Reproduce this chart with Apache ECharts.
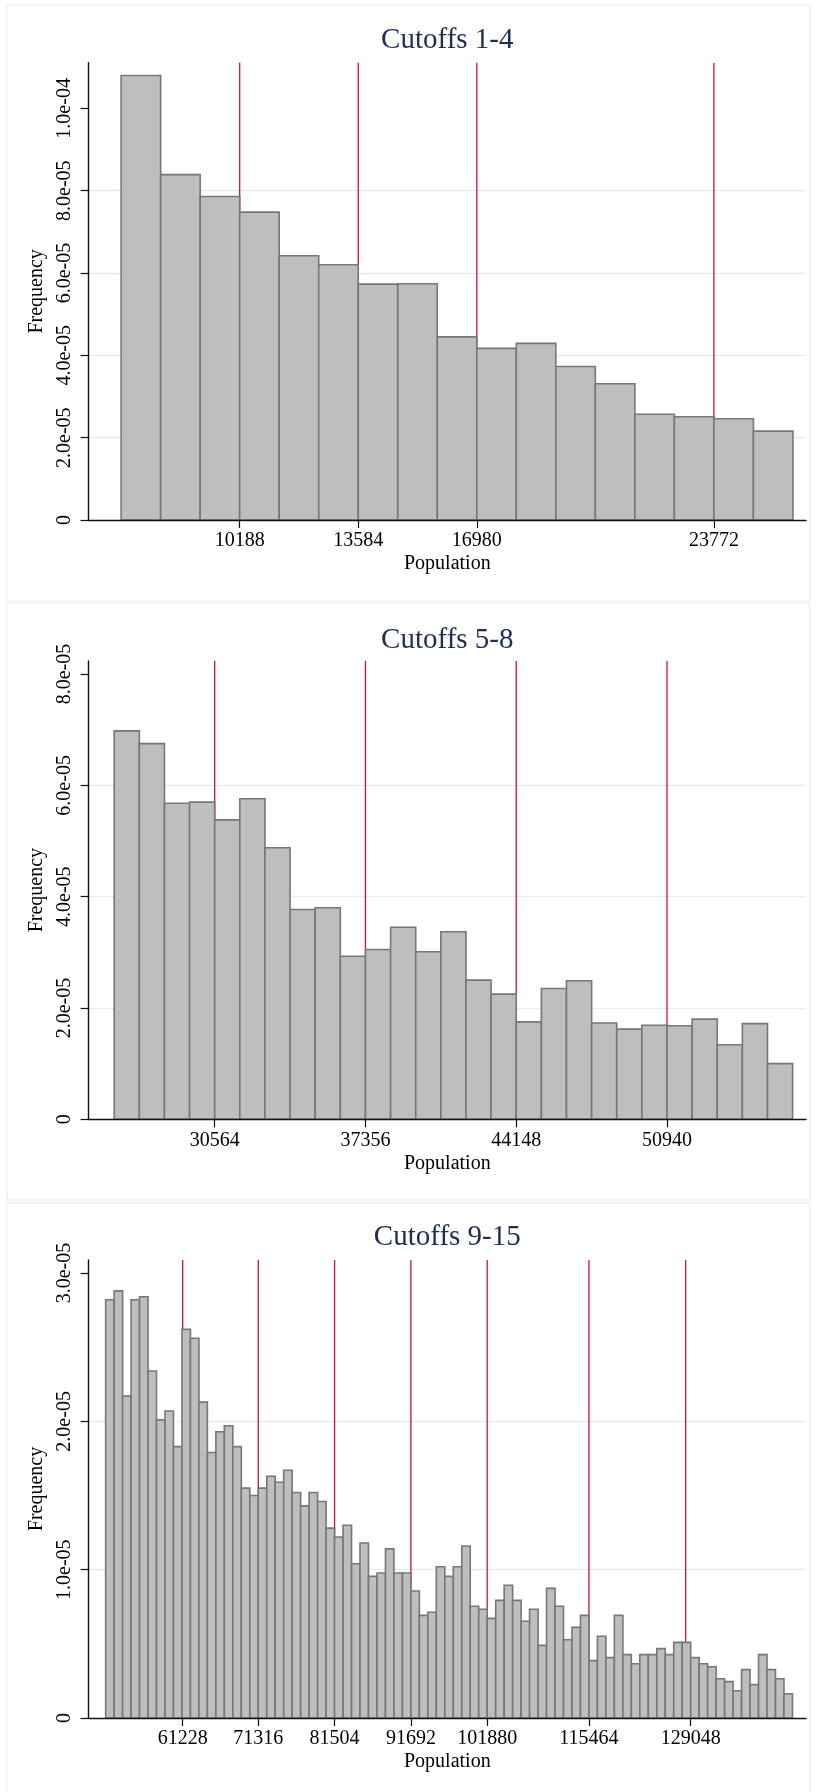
<!DOCTYPE html>
<html>
<head>
<meta charset="utf-8">
<script src="https://cdn.jsdelivr.net/npm/echarts@6/dist/echarts.min.js"></script>
<style>
  html, body { margin: 0; padding: 0; background: #ffffff; }
  #chart { width: 817px; height: 1792px; }
</style>
</head>
<body>
<div id="chart"></div>
<script>
// ---- data -------------------------------------------------------------
const titles = ['Cutoffs 1-4', 'Cutoffs 5-8', 'Cutoffs 9-15'];
const xName = 'Population';
const yName = 'Frequency';

// histogram bins: common width, first lower edge per panel
const binWidth = 1132;
const binStarts = [6792, 26036, 50940];

// density per bin
const freq1 = [1.080e-4, 8.39e-5, 7.86e-5, 7.48e-5, 6.42e-5, 6.20e-5, 5.73e-5, 5.74e-5,
  4.45e-5, 4.17e-5, 4.29e-5, 3.73e-5, 3.31e-5, 2.57e-5, 2.51e-5, 2.46e-5, 2.16e-5];

const freq2 = [6.98e-5, 6.75e-5, 5.68e-5, 5.70e-5, 5.38e-5, 5.76e-5, 4.88e-5, 3.77e-5, 3.80e-5,
  2.93e-5, 3.05e-5, 3.45e-5, 3.01e-5, 3.37e-5, 2.50e-5, 2.25e-5, 1.75e-5, 2.35e-5, 2.49e-5,
  1.73e-5, 1.62e-5, 1.69e-5, 1.68e-5, 1.80e-5, 1.34e-5, 1.72e-5, 1.00e-5];

const freq3 = [2.82e-5, 2.88e-5, 2.17e-5, 2.82e-5, 2.84e-5, 2.34e-5, 2.01e-5, 2.07e-5, 1.83e-5,
  2.62e-5, 2.56e-5, 2.13e-5, 1.79e-5, 1.93e-5, 1.97e-5, 1.83e-5, 1.55e-5, 1.50e-5, 1.55e-5,
  1.63e-5, 1.59e-5, 1.67e-5, 1.52e-5, 1.43e-5, 1.52e-5, 1.46e-5, 1.28e-5, 1.22e-5, 1.30e-5,
  1.04e-5, 1.18e-5, 0.955e-5, 0.978e-5, 1.14e-5, 0.978e-5, 0.978e-5, 0.856e-5, 0.692e-5, 0.713e-5,
  1.02e-5, 0.955e-5, 1.02e-5, 1.16e-5, 0.753e-5, 0.733e-5, 0.672e-5, 0.793e-5, 0.895e-5, 0.793e-5,
  0.652e-5, 0.733e-5, 0.490e-5, 0.874e-5, 0.753e-5, 0.528e-5, 0.611e-5, 0.692e-5, 0.387e-5, 0.551e-5,
  0.407e-5, 0.692e-5, 0.427e-5, 0.366e-5, 0.427e-5, 0.427e-5, 0.468e-5, 0.427e-5, 0.510e-5, 0.510e-5,
  0.407e-5, 0.366e-5, 0.346e-5, 0.265e-5, 0.245e-5, 0.184e-5, 0.326e-5, 0.225e-5, 0.427e-5, 0.326e-5,
  0.265e-5, 0.164e-5];

// vertical cutoff lines
const cutoffs1 = [10188, 13584, 16980, 23772];
const cutoffs2 = [30564, 37356, 44148, 50940];
const cutoffs3 = [61228, 71316, 81504, 91692, 101880, 115464, 128380];

// x tick labels
const xTicks1 = [10188, 13584, 16980, 23772];
const xTicks2 = [30564, 37356, 44148, 50940];
const xTicks3 = [61228, 71316, 81504, 91692, 101880, 115464, 129048];

// y tick labels
const yTicks1 = [0, 2e-5, 4e-5, 6e-5, 8e-5, 1e-4];
const yTicks2 = [0, 2e-5, 4e-5, 6e-5, 8e-5];
const yTicks3 = [0, 1e-5, 2e-5, 3e-5];

// ---- layout & style ---------------------------------------------------
const FONT = '"Liberation Serif", "Times New Roman", serif';
const BAR_FILL = '#bebebe';
const BAR_EDGE = '#777777';
const CUT_COLOR = '#cf0f3d';
const GRID_COLOR = '#e7eef1';
const TITLE_COLOR = '#1f2d55';

const panels = [
  { freq: freq1, cut: cutoffs1, xt: xTicks1, yt: yTicks1, start: binStarts[0],
    top: 62.7, height: 457.3, xMin: 5860, xMax: 26410, yMax: 1.111e-4, yStep: 2e-5,
    titleY: 40.5, frame: [7, 5, 803, 596] },
  { freq: freq2, cut: cutoffs2, xt: xTicks2, yt: yTicks2, start: binStarts[1],
    top: 661, height: 458.3, xMin: 24883, xMax: 57202, yMax: 8.235e-5, yStep: 2e-5,
    titleY: 640, frame: [7, 603, 803, 597] },
  { freq: freq3, cut: cutoffs3, xt: xTicks3, yt: yTicks3, start: binStarts[2],
    top: 1260, height: 458, xMin: 48665, xMax: 144442, yMax: 3.088e-5, yStep: 1e-5,
    titleY: 1237, frame: [7, 1203, 803, 600] }
];
const PLOT_LEFT = 88.6;
const PLOT_RIGHT = 806;

function fmtSci(v) {
  if (v === 0) return '0';
  return v.toExponential(1).replace(/e([+-])(\d)$/, 'e$10$2');
}

function histItem(params, api) {
  const a = api.coord([api.value(0), api.value(2)]);
  const b = api.coord([api.value(1), 0]);
  return {
    type: 'rect',
    shape: { x: a[0], y: a[1], width: b[0] - a[0], height: b[1] - a[1] },
    style: { fill: BAR_FILL, stroke: BAR_EDGE, lineWidth: 1.6 }
  };
}

function cutItem(params, api) {
  const p = api.coord([api.value(0), 0]);
  const cs = params.coordSys;
  return {
    type: 'line',
    shape: { x1: p[0], y1: cs.y, x2: p[0], y2: cs.y + cs.height },
    style: { stroke: CUT_COLOR, lineWidth: 1.3 }
  };
}

const grid = [], xAxis = [], yAxis = [], series = [], graphic = [];

panels.forEach((p, i) => {
  graphic.push({
    type: 'rect', z: -10, silent: true,
    shape: { x: p.frame[0], y: p.frame[1], width: p.frame[2], height: p.frame[3] },
    style: { fill: '#ffffff', stroke: GRID_COLOR, lineWidth: 1.2 }
  });
  graphic.push({
    type: 'text', z: 10, silent: true,
    x: (PLOT_LEFT + PLOT_RIGHT) / 2, y: p.titleY,
    style: { text: titles[i], font: '29px ' + FONT, fill: TITLE_COLOR,
             textAlign: 'center', textVerticalAlign: 'middle' }
  });

  grid.push({ left: PLOT_LEFT, top: p.top, width: PLOT_RIGHT - PLOT_LEFT, height: p.height,
              containLabel: false, outerBoundsMode: 'none' });

  xAxis.push({
    type: 'value', gridIndex: i, min: p.xMin, max: p.xMax, z: 3,
    name: xName, nameLocation: 'middle', nameGap: 34,
    nameTextStyle: { fontFamily: FONT, fontSize: 20, color: '#000' },
    axisLine: { show: true, onZero: false, lineStyle: { color: '#111', width: 1.4 } },
    axisTick: { show: true, length: 8, customValues: p.xt, lineStyle: { color: '#111', width: 1.2 } },
    axisLabel: { customValues: p.xt, margin: 11, fontFamily: FONT, fontSize: 20, color: '#000',
                 formatter: v => String(v) },
    splitLine: { show: false }
  });

  yAxis.push({
    type: 'value', gridIndex: i, min: 0, max: p.yMax, interval: p.yStep,
    name: yName, nameLocation: 'middle', nameGap: 34,
    nameTextStyle: { fontFamily: FONT, fontSize: 20, color: '#000' },
    axisLine: { show: true, lineStyle: { color: '#111', width: 1.4 } },
    axisTick: { show: true, length: 8, customValues: p.yt, lineStyle: { color: '#111', width: 1.2 } },
    axisLabel: { customValues: p.yt, rotate: 90, margin: 14,
                 fontFamily: FONT, fontSize: 20, color: '#000', formatter: fmtSci },
    splitLine: { show: true, showMinLine: false, showMaxLine: false,
                 lineStyle: { color: GRID_COLOR, width: 1.4 } }
  });

  series.push({
    type: 'custom', xAxisIndex: i, yAxisIndex: i, z: 1, silent: true,
    renderItem: cutItem,
    encode: { x: 0, y: 1 },
    data: p.cut.map(v => [v, 0])
  });

  series.push({
    type: 'custom', xAxisIndex: i, yAxisIndex: i, z: 2, silent: true,
    renderItem: histItem,
    encode: { x: [0, 1], y: 2 },
    data: p.freq.map((f, k) => [p.start + k * binWidth, p.start + (k + 1) * binWidth, f])
  });
});

const chart = echarts.init(document.getElementById('chart'), null, { renderer: 'canvas' });
chart.setOption({
  animation: false,
  backgroundColor: '#ffffff',
  textStyle: { fontFamily: FONT },
  grid, xAxis, yAxis, series, graphic
});
</script>
</body>
</html>
